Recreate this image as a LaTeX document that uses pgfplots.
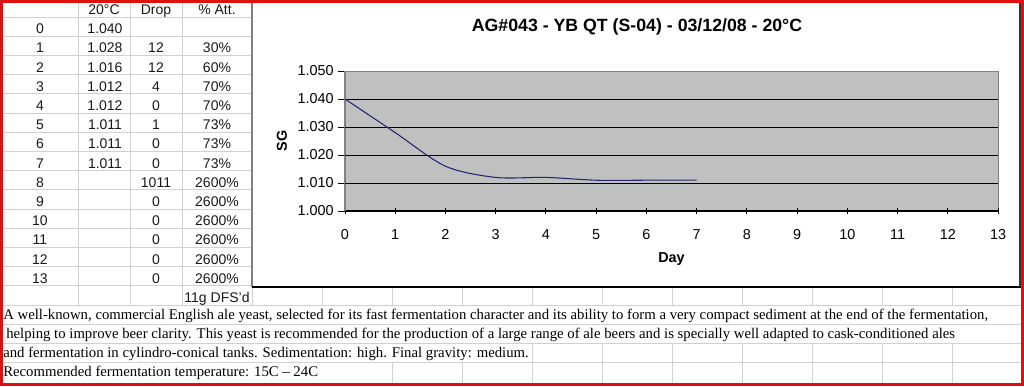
\documentclass[border=0pt]{standalone}
\usepackage{fontspec}
\setmainfont{Liberation Sans}
\newfontfamily\timesfont{Liberation Serif}
\usepackage{pgfplots}
\pgfplotsset{compat=1.18}
\definecolor{plotgray}{HTML}{C0C0C0}
\definecolor{gridl}{HTML}{D0D0D0}
\definecolor{navyl}{HTML}{27276F}
\definecolor{redb}{HTML}{E01010}
\definecolor{axgray}{HTML}{808080}
\begin{document}
\begin{tikzpicture}
\begin{scope}[x=0.75pt,y=-0.75pt]
\path[use as bounding box] (0,0) rectangle (1024,386);
\fill[white] (0,0) rectangle (1024,386);
% spreadsheet grid
\foreach \k in {0,...,14} \draw[gridl, line width=0.75pt] (3,{17+19.2*\k}) -- (252,{17+19.2*\k});
\foreach \k in {15,...,18} \draw[gridl, line width=0.75pt] (3,{17+19.2*\k}) -- (1021,{17+19.2*\k});
\foreach \xx in {78,130,182} \draw[gridl, line width=0.75pt] (\xx,0) -- (\xx,305);
\foreach \xx in {252,322,...,952} \draw[gridl, line width=0.75pt] (\xx,286) -- (\xx,305);
\foreach \xx in {532,602,...,952} \draw[gridl, line width=0.75pt] (\xx,343.4) -- (\xx,362.6);
\foreach \xx in {392,462,...,952} \draw[gridl, line width=0.75pt] (\xx,362.6) -- (\xx,386);
% chart area
\fill[white] (252.5,0) rectangle (1020,287);
\draw[axgray, line width=0.9pt] (252,0) -- (252,287);
\draw[black, line width=0.9pt] (252,287) -- (1021,287);
\draw[black!80, line width=0.9pt] (1020,0) -- (1020,287);
% table text
\begin{scope}[every node/.style={anchor=base, inner sep=0pt, font=\fontsize{10.5}{12}\selectfont, text=black!90}]
\node at (104,14.5) {20°C};
\node at (156,14.5) {Drop};
\node at (217,14.5) {\% Att.};
\foreach \k/\a/\b/\c/\d in {0/0/1.040//, 1/1/1.028/12/30\%, 2/2/1.016/12/60\%, 3/3/1.012/4/70\%, 4/4/1.012/0/70\%, 5/5/1.011/1/73\%, 6/6/1.011/0/73\%, 7/7/1.011/0/73\%, 8/8//1011/2600\%, 9/9//0/2600\%, 10/10//0/2600\%, 11/11//0/2600\%, 12/12//0/2600\%, 13/13//0/2600\%, 14///{}/11g DFS'd}{
  \node at (40,{17+19.2*(\k+1)-2.5}) {\a};
  \node at (105,{17+19.2*(\k+1)-2.5}) {\b};
  \node at (156,{17+19.2*(\k+1)-2.5}) {\c};
  \node at (217,{17+19.2*(\k+1)-2.5}) {\d};
}
\end{scope}
% description text
\begin{scope}[every node/.style={anchor=base west, inner sep=0pt, font=\timesfont\fontsize{11.07}{13}\selectfont, text=black}]
\node at (3,319.2) {A well-known, commercial English ale yeast, selected for its fast fermentation character and its ability to form a very compact sediment at the end of the fermentation,};
\node at (6,338.4) {helping to improve beer clarity. This yeast is recommended for the production of a large range of ale beers and is specially well adapted to cask-conditioned ales};
\node at (3,357.6) {and fermentation in cylindro-conical tanks. Sedimentation: high. Final gravity: medium.};
\node at (3,376.8) {Recommended fermentation temperature: 15C – 24C};
\end{scope}
% title
\node[anchor=base, inner sep=0pt, font=\bfseries\fontsize{13.3}{15}\selectfont] at (637,31.5) {AG\#043 - YB QT (S-04) - 03/12/08 - 20°C};
\end{scope}
\begin{axis}[
  at={(258.75pt,-158.25pt)}, anchor=south west,
  scale only axis, width=489.75pt, height=105pt,
  xmin=0, xmax=13, ymin=1, ymax=1.05,
  axis lines*=left,
  x axis line style={black, line width=0.9pt},
  y axis line style={axgray, line width=0.9pt},
  axis background/.style={fill=plotgray, draw=axgray, line width=0.75pt},
  xtick={0,1,2,3,4,5,6,7,8,9,10,11,12,13},
  ytick={1.00,1.01,1.02,1.03,1.04,1.05},
  xtick pos=bottom, ytick pos=left,
  xtick align=center, ytick align=outside,
  major tick length=5pt,
  tick style={black, line width=0.75pt},
  extra y ticks={1.01,1.02,1.03,1.04},
  extra y tick labels={},
  extra y tick style={ymajorgrids=true, major tick length=0pt, major grid style={black, line width=0.75pt}},
  /pgf/number format/assume math mode=true,
  every tick label/.append style={font=\fontsize{10.8}{12}\selectfont, text=black},
  xticklabel style={text height=7.8pt, text depth=0pt, yshift=-7.5pt},
  yticklabel style={/pgf/number format/fixed, /pgf/number format/fixed zerofill, /pgf/number format/precision=3},
  xlabel={\bfseries Day}, ylabel={\bfseries SG},
  label style={font=\bfseries\fontsize{10.8}{12}\selectfont},
  x label style={at={(axis description cs:0.5,-0.343)}, anchor=center},
  y label style={at={(axis description cs:-0.0965,0.5)}, anchor=center},
]
\addplot[navyl, line width=0.8pt, smooth, tension=0.5, mark=none] coordinates {(0,1.040)(1,1.028)(2,1.016)(3,1.012)(4,1.012)(5,1.011)(6,1.011)(7,1.011)};
\end{axis}
\begin{scope}[x=0.75pt,y=-0.75pt]
\fill[redb] (0,0) rectangle (1024,3);
\fill[redb] (0,0) rectangle (3,386);
\fill[redb] (1021,0) rectangle (1024,386);
\fill[redb] (0,382.5) rectangle (1024,386);
\end{scope}
\end{tikzpicture}
\end{document}
